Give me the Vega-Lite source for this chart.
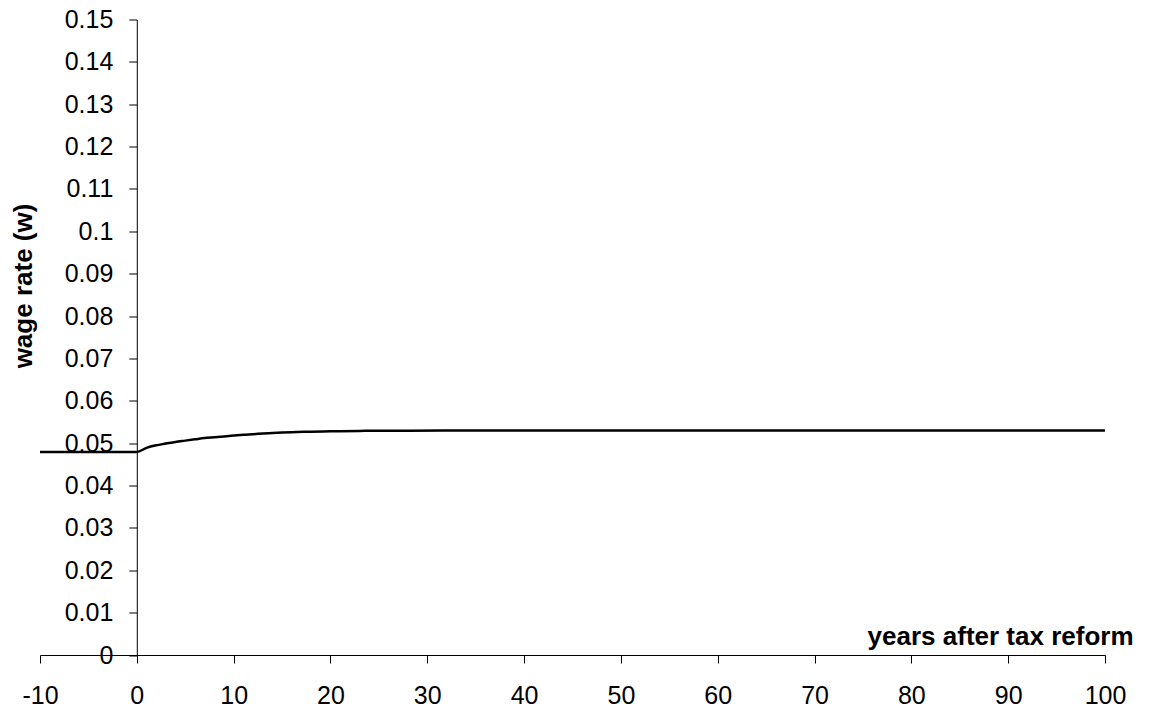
{
  "$schema": "https://vega.github.io/schema/vega-lite/v6.json",
  "width": 1065,
  "height": 635.5,
  "autosize": {"type": "none"},
  "padding": {"left": 40, "top": 19.5, "right": 44, "bottom": 58},
  "background": "white",
  "config": {"view": {"stroke": null}, "font": "Liberation Sans"},
  "data": {
    "values": [
      {"year": -10, "w": 0.0479},
      {"year": -5, "w": 0.0479},
      {"year": 0, "w": 0.0479},
      {"year": 1, "w": 0.0489},
      {"year": 2, "w": 0.0495},
      {"year": 3, "w": 0.0499},
      {"year": 4, "w": 0.0503},
      {"year": 5, "w": 0.0506},
      {"year": 6, "w": 0.0509},
      {"year": 7, "w": 0.0512},
      {"year": 8, "w": 0.0514},
      {"year": 9, "w": 0.0516},
      {"year": 10, "w": 0.0518},
      {"year": 11, "w": 0.0520},
      {"year": 12, "w": 0.0521},
      {"year": 14, "w": 0.0524},
      {"year": 16, "w": 0.0526},
      {"year": 18, "w": 0.0527},
      {"year": 20, "w": 0.0528},
      {"year": 23, "w": 0.0529},
      {"year": 28, "w": 0.05295},
      {"year": 34, "w": 0.0530},
      {"year": 40, "w": 0.0530},
      {"year": 50, "w": 0.0530},
      {"year": 60, "w": 0.0530},
      {"year": 70, "w": 0.0530},
      {"year": 80, "w": 0.0530},
      {"year": 90, "w": 0.0530},
      {"year": 100, "w": 0.0530}
    ]
  },
  "mark": {"type": "line", "color": "black", "strokeWidth": 2.5, "interpolate": "monotone"},
  "encoding": {
    "x": {
      "field": "year",
      "type": "quantitative",
      "scale": {"domain": [-10, 100], "nice": false, "zero": false},
      "axis": {
        "values": [-10, 0, 10, 20, 30, 40, 50, 60, 70, 80, 90, 100],
        "format": "d",
        "labelExpr": "replace(datum.label, '\u2212', '-')",
        "grid": false,
        "domainColor": "black",
        "domainWidth": 1,
        "tickColor": "black",
        "tickWidth": 1,
        "tickSize": 8,
        "labelFont": "Liberation Sans",
        "labelFontSize": 25,
        "labelColor": "black",
        "labelPadding": 20,
        "labelFlush": false,
        "labelOverlap": false,
        "title": "years after tax reform",
        "titleFont": "Liberation Sans",
        "titleFontSize": 26,
        "titleFontWeight": "bold",
        "titleColor": "black",
        "titleX": 1093,
        "titleY": -11,
        "titleAlign": "right",
        "titleBaseline": "alphabetic"
      }
    },
    "y": {
      "field": "w",
      "type": "quantitative",
      "scale": {"domain": [0, 0.15], "nice": false, "zero": true},
      "axis": {
        "offset": -96.8,
        "values": [0, 0.01, 0.02, 0.03, 0.04, 0.05, 0.06, 0.07, 0.08, 0.09, 0.1, 0.11, 0.12, 0.13, 0.14, 0.15],
        "format": ".2~f",
        "grid": false,
        "domainColor": "black",
        "domainWidth": 1,
        "tickColor": "black",
        "tickWidth": 1,
        "tickSize": 8,
        "labelFont": "Liberation Sans",
        "labelFontSize": 25,
        "labelColor": "black",
        "labelPadding": 16,
        "labelFlush": false,
        "labelOverlap": false,
        "title": "wage rate (w)",
        "titleFont": "Liberation Sans",
        "titleFontSize": 26,
        "titleFontWeight": "bold",
        "titleColor": "black",
        "titleAngle": -90,
        "titleX": -113,
        "titleY": 266,
        "titleAlign": "center",
        "titleBaseline": "middle"
      }
    }
  }
}
